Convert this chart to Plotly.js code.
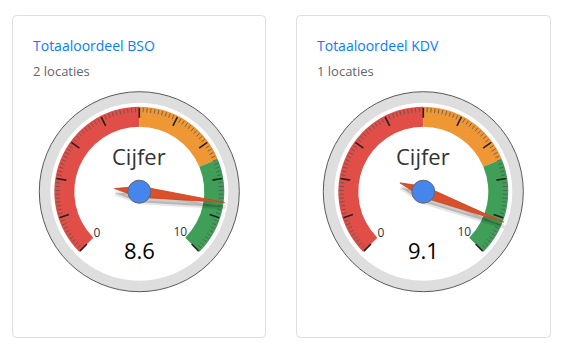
<!DOCTYPE html>
<html><head><meta charset="utf-8">
<script src="https://cdn.plot.ly/plotly-3.0.1.min.js"></script>
<style>html,body{margin:0;padding:0;background:#fff;overflow:hidden}#chart{width:564px;height:354px}</style>
</head><body><div id="chart"></div>
<script>
// ---- data ----
const cardTitles = ["Totaaloordeel BSO", "Totaaloordeel KDV"];
const cardSubtitles = ["2 locaties", "1 locaties"];
const gaugeLabel = "Cijfer";
const gaugeValues = [8.6, 9.1];
const gaugeMin = 0;
const gaugeMax = 10;
const bandFrom = [0, 5, 7.5];
const bandTo = [5, 7.5, 10];
const bandColors = ["#e14e48", "#ef9735", "#3f9f58"];
const majorTickValues = [0, 1, 2, 3, 4, 5, 6, 7, 8, 9, 10];
const minorPerMajor = 10;
const endLabels = ["0", "10"];

// ---- geometry (styles/positions) ----
const W = 564, H = 354;
const FONT = "Open Sans, Noto Sans, sans-serif";
const cards = [{x0: 12.5, x1: 265.5}, {x0: 296.5, x1: 550.5}];
const cardY0 = 15.5, cardY1 = 337.5;
const gaugeCx = [139.3, 423.3];
const gaugeCy = 191.7;
const R = 100;
const SWEEP = 270;
const theta = v => (v - gaugeMin) / (gaugeMax - gaugeMin) * SWEEP;

const traces = [{type: 'scatter', x: [], y: [], xaxis: 'x', yaxis: 'y', hoverinfo: 'skip', showlegend: false}];
const layout = {
  width: W, height: H, margin: {l: 0, r: 0, t: 0, b: 0},
  paper_bgcolor: '#fff', plot_bgcolor: 'rgba(0,0,0,0)', showlegend: false,
  xaxis: {range: [0, W], visible: false, fixedrange: true},
  yaxis: {range: [H, 0], visible: false, fixedrange: true},
  shapes: [], annotations: []
};

function polarLayout(cx, cy) {
  return {
    domain: {x: [(cx - R) / W, (cx + R) / W], y: [1 - (cy + R) / H, 1 - (cy - R) / H]},
    bgcolor: 'rgba(0,0,0,0)',
    sector: [0, 360],
    radialaxis: {range: [0, R], visible: false, showgrid: false, showline: false},
    angularaxis: {visible: false, rotation: 225, direction: 'clockwise', showgrid: false, showline: false}
  };
}

function rr(x0, y0, x1, y1, r) {
  return `M${x0 + r},${y0} L${x1 - r},${y0} Q${x1},${y0} ${x1},${y0 + r} L${x1},${y1 - r} Q${x1},${y1} ${x1 - r},${y1} L${x0 + r},${y1} Q${x0},${y1} ${x0},${y1 - r} L${x0},${y0 + r} Q${x0},${y0} ${x0 + r},${y0} Z`;
}

let pid = 1;
gaugeValues.forEach((val, i) => {
  const cx = gaugeCx[i], cy = gaugeCy;
  const card = cards[i];
  // card
  layout.shapes.push({type: 'path', xref: 'x', yref: 'y', layer: 'below',
    path: rr(card.x0, cardY0, card.x1, cardY1, 4), fillcolor: '#fff', line: {color: '#dedede', width: 1}});
  // outer rim
  layout.shapes.push({type: 'circle', xref: 'x', yref: 'y', layer: 'below',
    x0: cx - R, x1: cx + R, y0: cy - R, y1: cy + R, fillcolor: '#dedede', line: {color: '#5a5a5a', width: 1}});
  layout.shapes.push({type: 'circle', xref: 'x', yref: 'y', layer: 'below',
    x0: cx - 89, x1: cx + 89, y0: cy - 89, y1: cy + 89, fillcolor: '#ffffff', line: {width: 0}});
  // hub
  layout.shapes.push({type: 'circle', xref: 'x', yref: 'y', layer: 'above',
    x0: cx - 11.5, x1: cx + 11.5, y0: cy - 11.5, y1: cy + 11.5, fillcolor: '#4685ec', line: {color: '#5f6670', width: 1}});

  // texts
  layout.annotations.push({xref: 'x', yref: 'y', x: card.x0 + 18.5, y: 45, xanchor: 'left', yanchor: 'middle',
    text: cardTitles[i], showarrow: false, font: {family: FONT, size: 14, color: '#0a7bff'}});
  layout.annotations.push({xref: 'x', yref: 'y', x: card.x0 + 18.5, y: 71, xanchor: 'left', yanchor: 'middle',
    text: cardSubtitles[i], showarrow: false, font: {family: FONT, size: 13, color: '#5f666d'}});
  layout.annotations.push({xref: 'x', yref: 'y', x: cx, y: cy - 36, xanchor: 'center', yanchor: 'middle',
    text: gaugeLabel, showarrow: false, font: {family: FONT, size: 22, color: '#333'}});
  layout.annotations.push({xref: 'x', yref: 'y', x: cx, y: cy + 58, xanchor: 'center', yanchor: 'middle',
    text: String(val), showarrow: false, font: {family: FONT, size: 22, color: '#000'}});

  // polar subplots: bands, shadow, needle
  const pBand = 'polar' + (pid === 1 ? '' : pid); layout[pBand] = polarLayout(cx, cy); pid++;
  const pShadow = 'polar' + pid; layout[pShadow] = polarLayout(cx + 1, cy + 5); pid++;
  const pNeedle = 'polar' + pid; layout[pNeedle] = polarLayout(cx, cy); pid++;

  traces.push({type: 'barpolar', subplot: pBand,
    theta: bandFrom.map((f, k) => theta((f + bandTo[k]) / 2)),
    width: bandFrom.map((f, k) => theta(bandTo[k]) - theta(f)),
    r: bandFrom.map(() => 20), base: bandFrom.map(() => 65),
    marker: {color: bandColors, line: {width: 0}}, hoverinfo: 'skip'});

  // minor ticks
  const mt = [], mr = [];
  for (let k = 0; k < majorTickValues.length - 1; k++) {
    const a = majorTickValues[k], b = majorTickValues[k + 1];
    for (let j = 1; j < minorPerMajor; j++) {
      const v = a + (b - a) * j / minorPerMajor;
      mt.push(theta(v), theta(v), null); mr.push(79.5, 84, null);
    }
  }
  traces.push({type: 'scatterpolar', subplot: pBand, mode: 'lines', theta: mt, r: mr,
    line: {color: '#555', width: 0.8}, connectgaps: false, hoverinfo: 'skip'});
  const Mt = [], Mr = [];
  majorTickValues.forEach(v => { Mt.push(theta(v), theta(v), null); Mr.push(74, 84, null); });
  traces.push({type: 'scatterpolar', subplot: pBand, mode: 'lines', theta: Mt, r: Mr,
    line: {color: '#222', width: 1.6}, connectgaps: false, hoverinfo: 'skip'});
  traces.push({type: 'scatterpolar', subplot: pBand, mode: 'text',
    theta: [theta(gaugeMin), theta(gaugeMax)], r: [60, 58], text: endLabels,
    textfont: {family: FONT, size: 12, color: '#333'}, hoverinfo: 'skip'});

  const t = theta(val);
  const needleT = [t, t + 90, t + 180, t - 90, t];
  const needleR = [86, 5.5, 25, 5.5, 86];
  traces.push({type: 'scatterpolar', subplot: pShadow, mode: 'lines', fill: 'toself',
    theta: needleT, r: needleR, fillcolor: 'rgba(0,0,0,0.2)', line: {color: 'rgba(0,0,0,0.1)', width: 4}, hoverinfo: 'skip'});
  traces.push({type: 'scatterpolar', subplot: pNeedle, mode: 'lines', fill: 'toself',
    theta: needleT, r: needleR, fillcolor: '#d9502b', line: {color: '#c9431f', width: 0.8}, hoverinfo: 'skip'});
});

Plotly.newPlot('chart', traces, layout, {staticPlot: true, displayModeBar: false});
</script></body></html>
